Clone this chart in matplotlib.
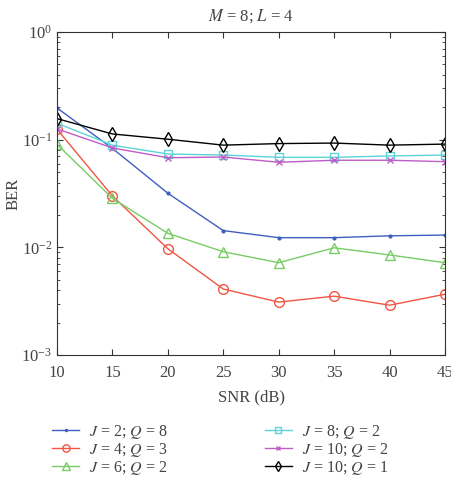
import numpy as np
import matplotlib
matplotlib.use("Agg")
import matplotlib.pyplot as plt

plt.rcParams['font.family'] = ['Liberation Serif', 'DejaVu Serif']
plt.rcParams['mathtext.fontset'] = 'stix'

# data
snr = [10, 15, 20, 25, 30, 35, 40, 45]
ber_j2q8 = [0.197, 0.083, 0.0318, 0.0143, 0.0123, 0.0123, 0.0128, 0.013]
ber_j4q3 = [0.125, 0.030, 0.0097, 0.0041, 0.0031, 0.00352, 0.0029, 0.00367]
ber_j6q2 = [0.0906, 0.0285, 0.0135, 0.0091, 0.0072, 0.0099, 0.0085, 0.0072]
ber_j8q2 = [0.142, 0.089, 0.0736, 0.072, 0.0686, 0.0686, 0.0706, 0.072]
ber_j10q2 = [0.126, 0.0838, 0.068, 0.069, 0.0617, 0.0644, 0.0644, 0.0625]
ber_j10q1 = [0.157, 0.113, 0.101, 0.089, 0.092, 0.093, 0.089, 0.091]

labels = [r'$J$ = 2; $Q$ = 8', r'$J$ = 4; $Q$ = 3', r'$J$ = 6; $Q$ = 2',
          r'$J$ = 8; $Q$ = 2', r'$J$ = 10; $Q$ = 2', r'$J$ = 10; $Q$ = 1']

txt = '#444444'
fig = plt.figure(figsize=(4.51, 4.83), dpi=100)
ax = fig.add_axes([0.1264, 0.265, 0.8603, 0.6687])

ax.semilogy(snr, ber_j2q8, color='#3f5fbf', marker='.', ms=4, lw=1, label=labels[0])
ax.semilogy(snr, ber_j4q3, color='#f05545', marker='o', ms=7, mfc='none', lw=1, label=labels[1])
ax.semilogy(snr, ber_j6q2, color='#78cc66', marker='^', ms=7, mfc='none', lw=1, label=labels[2])
ax.semilogy(snr, ber_j8q2, color='#5cd4d8', marker='s', ms=6, mfc='none', lw=1, label=labels[3])
ax.semilogy(snr, ber_j10q2, color='#c05cc8', marker='x', ms=4, lw=1, label=labels[4])
ax.semilogy(snr, ber_j10q1, color='black', marker='d', ms=7, mfc='none', lw=1, label=labels[5])

ax.set_xlim(10, 45)
ax.set_ylim(1e-3, 1)
ax.set_xticks(snr)
ax.tick_params(which='both', direction='in', top=True, right=True, labelsize=12,
               color='#333333', labelcolor=txt)
ax.tick_params(axis='x', pad=7)
ax.tick_params(which='major', length=4)
ax.tick_params(which='minor', length=2)
for s in ax.spines.values():
    s.set_linewidth(0.8)
    s.set_color('#333333')

ax.set_xlabel('SNR (dB)', fontsize=12, color=txt, labelpad=6)
ax.set_ylabel('BER', fontsize=12, color=txt, labelpad=0)
ax.set_title(r'$M$ = 8; $L$ = 4', fontsize=12, color=txt, pad=8)

handles, labs = ax.get_legend_handles_labels()
leg = fig.legend(handles, labs, loc='lower left', bbox_to_anchor=(0.102, 0.0), ncol=2,
                 frameon=False, fontsize=11.5, handlelength=1.65, columnspacing=6.1,
                 labelspacing=0.0, handletextpad=0.65, markerscale=0.75, borderaxespad=0)
for t in leg.get_texts():
    t.set_color(txt)

fig.savefig('out.png', dpi=100)
